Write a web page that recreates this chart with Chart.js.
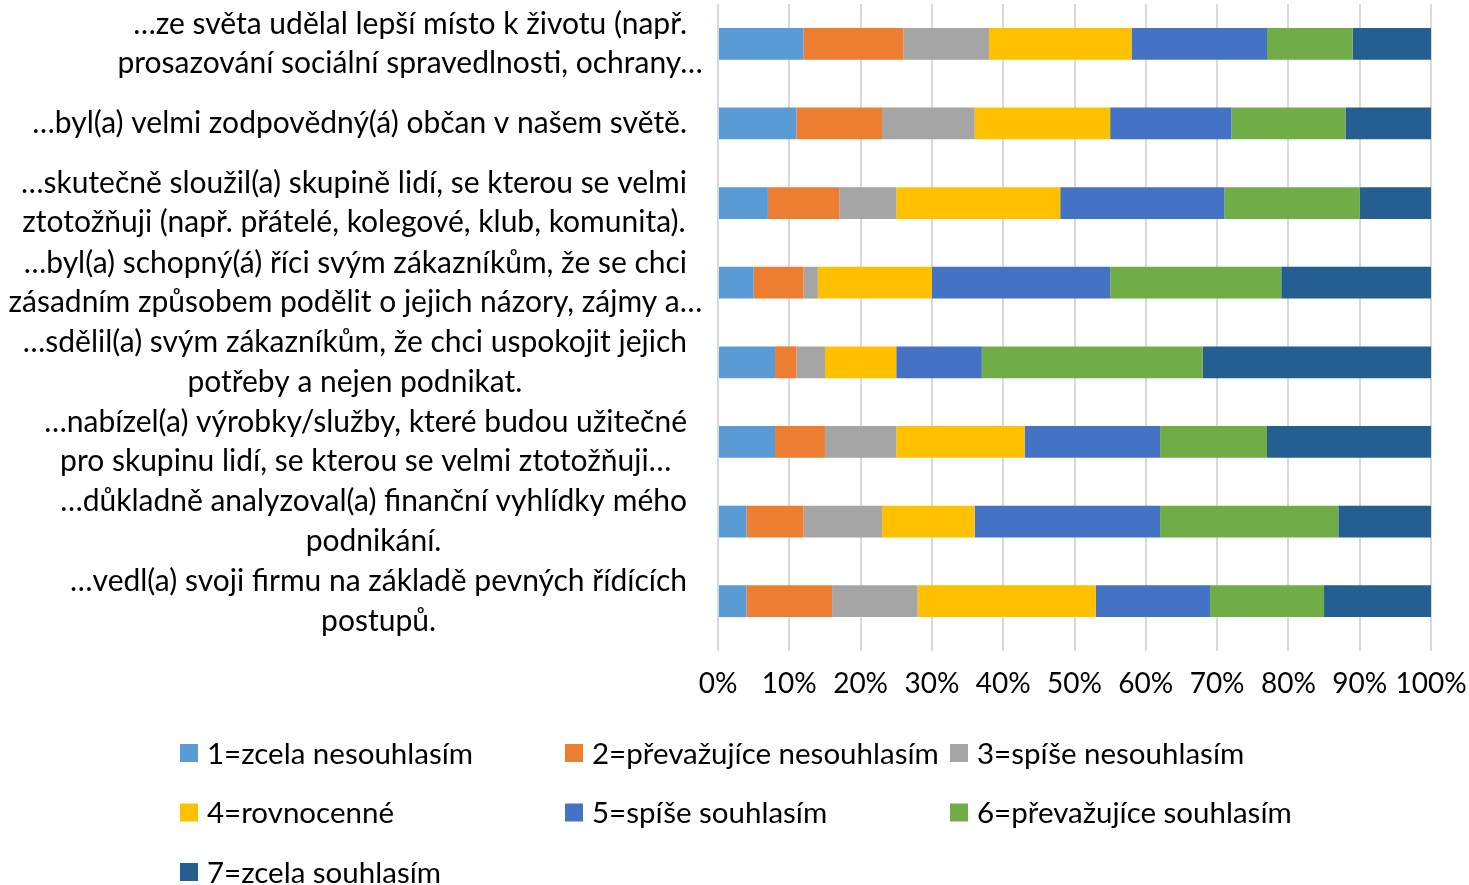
<!DOCTYPE html>
<html>
<head>
<meta charset="utf-8">
<script src="https://cdn.jsdelivr.net/npm/chart.js@4/dist/chart.umd.min.js"></script>
<style>
  html, body { margin: 0; padding: 0; background: #ffffff; }
  #wrap { width: 1469px; height: 885px; position: relative; }
</style>
</head>
<body>
<div id="wrap"><canvas id="c" width="1469" height="885"></canvas></div>
<script>
// Statements (top to bottom), each split into its display lines
const statements = [
  ["…ze světa udělal lepší místo k životu (např.", "prosazování sociální spravedlnosti, ochrany…"],
  ["…byl(a) velmi zodpovědný(á) občan v našem světě."],
  ["…skutečně sloužil(a) skupině lidí, se kterou se velmi", "ztotožňuji (např. přátelé, kolegové, klub, komunita)."],
  ["…byl(a) schopný(á) říci svým zákazníkům, že se chci", "zásadním způsobem podělit o jejich názory, zájmy a…"],
  ["…sdělil(a) svým zákazníkům, že chci uspokojit jejich", "potřeby a nejen podnikat."],
  ["…nabízel(a) výrobky/služby, které budou užitečné", "pro skupinu lidí, se kterou se velmi ztotožňuji…"],
  ["…důkladně analyzoval(a) finanční vyhlídky mého", "podnikání."],
  ["…vedl(a) svoji firmu na základě pevných řídících", "postupů."]
];

// Answer scale
const answerLabels = [
  "1=zcela nesouhlasím",
  "2=převažujíce nesouhlasím",
  "3=spíše nesouhlasím",
  "4=rovnocenné",
  "5=spíše souhlasím",
  "6=převažujíce souhlasím",
  "7=zcela souhlasím"
];

// Share of respondents (%) per answer, one value per statement
const answer1 = [12, 11, 7, 5, 8, 8, 4, 4];
const answer2 = [14, 12, 10, 7, 3, 7, 8, 12];
const answer3 = [12, 13, 8, 2, 4, 10, 11, 12];
const answer4 = [20, 19, 23, 16, 10, 18, 13, 25];
const answer5 = [19, 17, 23, 25, 12, 19, 26, 16];
const answer6 = [12, 16, 19, 24, 31, 15, 25, 16];
const answer7 = [11, 12, 10, 21, 32, 23, 13, 15];

// Percentage axis tick labels
const percentTicks = ["0%", "10%", "20%", "30%", "40%", "50%", "60%", "70%", "80%", "90%", "100%"];

const answerColors = ["#5B9BD5", "#ED7D31", "#A5A5A5", "#FFC000", "#4472C4", "#70AD47", "#255E91"];
const answerValues = [answer1, answer2, answer3, answer4, answer5, answer6, answer7];

const FONT_FAMILY = "Lato, 'Open Sans', sans-serif";
const LABEL_SIZE = 30;
const LEGEND_SIZE = 29.5;
const TICK_SIZE = 28;
const TEXT_COLOR = "#000000";

// Multi-line category labels: lines centred within their block, block right-aligned to the axis
const categoryLabelPlugin = {
  id: "categoryLabels",
  afterDraw(chart) {
    const ctx = chart.ctx;
    const yScale = chart.scales.y;
    const right = chart.chartArea.left - 31;
    const lineGap = 39.5;
    ctx.save();
    ctx.font = LABEL_SIZE + "px " + FONT_FAMILY;
    ctx.fillStyle = TEXT_COLOR;
    ctx.textAlign = "center";
    ctx.textBaseline = "middle";
    chart.data.labels.forEach((lines, i) => {
      const cy = yScale.getPixelForValue(i);
      let blockW = 0;
      lines.forEach(l => {
        if (!l.endsWith("…")) blockW = Math.max(blockW, ctx.measureText(l).width);
      });
      if (blockW === 0) blockW = Math.max(...lines.map(l => ctx.measureText(l).width));
      const cx = right - blockW / 2;
      const startY = cy - (lines.length - 1) * lineGap / 2;
      lines.forEach((l, k) => ctx.fillText(l, cx, startY + k * lineGap));
    });
    ctx.restore();
  }
};

// Legend laid out as a three-column grid below the axis
const gridLegendPlugin = {
  id: "gridLegend",
  afterDraw(chart) {
    const ctx = chart.ctx;
    const cols = 3, colW = 385, x0 = 180, y0 = 753, rowH = 59.5, box = 18;
    ctx.save();
    ctx.font = LEGEND_SIZE + "px " + FONT_FAMILY;
    ctx.textAlign = "left";
    ctx.textBaseline = "middle";
    chart.data.datasets.forEach((ds, i) => {
      const r = Math.floor(i / cols), c = i % cols;
      const x = x0 + c * colW, y = y0 + r * rowH;
      ctx.fillStyle = ds.backgroundColor;
      ctx.fillRect(x, y - box / 2, box, box);
      ctx.fillStyle = TEXT_COLOR;
      ctx.fillText(ds.label, x + box + 9, y + 1);
    });
    ctx.restore();
  }
};

function draw() {
  const datasets = answerLabels.map((lab, i) => ({
    label: lab,
    data: answerValues[i],
    backgroundColor: answerColors[i],
    borderWidth: 0,
    barPercentage: 0.4,
    categoryPercentage: 1.0
  }));

  new Chart(document.getElementById("c"), {
    type: "bar",
    data: { labels: statements, datasets },
    options: {
      indexAxis: "y",
      responsive: false,
      animation: false,
      layout: { padding: { top: 4, right: 38, left: 0, bottom: 0 } },
      plugins: { legend: { display: false }, tooltip: { enabled: false } },
      scales: {
        x: {
          stacked: true,
          min: 0,
          max: 100,
          ticks: {
            stepSize: 10,
            padding: 16,
            color: TEXT_COLOR,
            font: { family: FONT_FAMILY, size: TICK_SIZE },
            maxRotation: 0,
            autoSkip: false,
            callback: v => percentTicks[Math.round(v / 10)]
          },
          grid: { color: "#d9d9d9", lineWidth: 2, tickLength: 10 },
          border: { display: false },
          afterFit: s => { s.height = 244; s.paddingLeft = 0; s.paddingRight = 0; }
        },
        y: {
          stacked: true,
          ticks: { display: false },
          grid: { display: false },
          border: { display: false },
          afterFit: s => { s.width = 718; }
        }
      }
    },
    plugins: [categoryLabelPlugin, gridLegendPlugin]
  });
}

if (document.fonts && document.fonts.load) {
  document.fonts.load(LABEL_SIZE + "px Lato").then(draw, draw);
} else {
  draw();
}
</script>
</body>
</html>
